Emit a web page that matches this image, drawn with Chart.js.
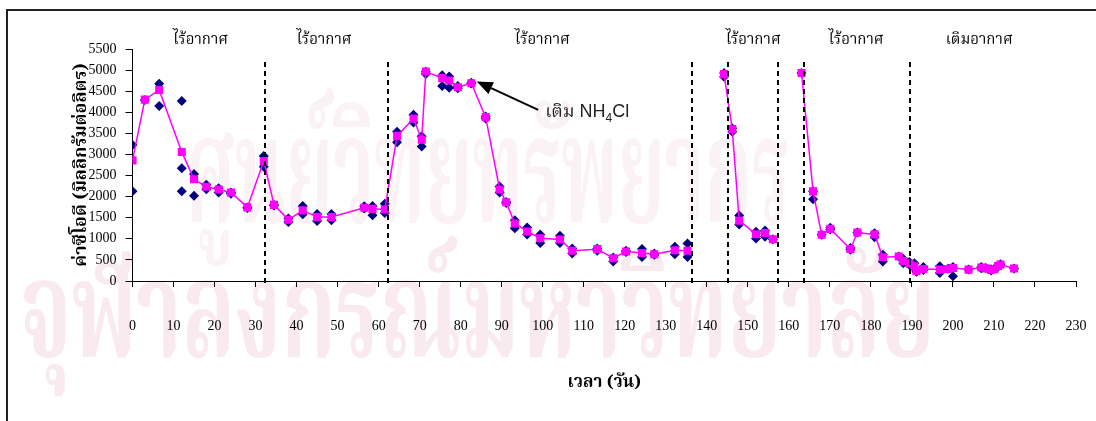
<!DOCTYPE html>
<html>
<head>
<meta charset="utf-8">
<script src="https://cdn.jsdelivr.net/npm/chart.js@4.4.1/dist/chart.umd.min.js"></script>
<style>
html,body{margin:0;padding:0;background:#fff;}
#wrap{position:relative;width:1096px;height:421px;}
</style>
</head>
<body>
<div id="wrap"><canvas id="c" width="1096" height="421"></canvas></div>
<script>
// ---- Data ----
const avgDays = [0,3,6.5,12,15,18,21,24,28,32,34.5,38,41.5,45,48.5,56.5,58.5,61.5,64.5,68.5,70.5,71.5,75.5,77.2,79.3,82.6,86.1,89.5,91.1,93.2,96.2,99.4,104.2,107.2,113.3,117.2,120.3,124.2,127.2,132.2,135.3,140,144.2,146.2,147.9,152,154.2,156.1,160,163.1,165.9,168,170.1,175,176.7,180.9,182.9,186.8,187.9,189.4,190.6,191.1,192.8,196.8,198.8,200,203.8,206.9,208,209.3,210.1,211,211.6,214.9];
const avgCOD = [2860,4300,4530,3060,2410,2235,2170,2100,1745,2845,1805,1450,1675,1515,1515,1735,1710,1695,3440,3850,3350,4965,4810,4755,4595,4690,3885,2170,1865,1365,1175,1015,985,715,755,540,700,665,635,730,715,null,4905,3600,1430,1110,1140,990,null,4930,2125,1095,1235,760,1150,1105,565,580,475,415,350,240,285,270,285,310,270,318,300,262,278,355,390,295];

const repDays = [0,0,3,6.5,6.5,12,12,12,15,15,18,18,21,21,24,24,28,28,32,32,34.5,34.5,38,38,41.5,41.5,45,45,48.5,48.5,56.5,56.5,58.5,58.5,61.5,61.5,64.5,64.5,68.5,68.5,70.5,70.5,71.5,71.5,75.5,75.5,77.2,77.2,79.3,79.3,82.6,82.6,86.1,86.1,89.5,89.5,91.1,91.1,93.2,93.2,96.2,96.2,99.4,99.4,104.2,104.2,107.2,107.2,113.3,113.3,117.2,117.2,120.3,120.3,124.2,124.2,127.2,127.2,132.2,132.2,135.3,135.3,144.2,144.2,146.2,146.2,147.9,147.9,152,152,154.2,154.2,156.1,163.1,165.9,165.9,168,170.1,170.1,175,175,176.7,180.9,180.9,182.9,182.9,186.8,187.9,187.9,189.4,189.4,190.6,190.6,191.1,191.1,192.8,192.8,196.8,196.8,198.8,200,200,203.8,206.9,206.9,208,209.3,209.3,210.1,211,211,211.6,214.9];
const repCOD = [3225,2125,4290,4675,4150,4270,2670,2125,2536,2021,2280,2175,2200,2100,2100,2070,1745,1730,2964,2710,1800,1790,1480,1400,1780,1580,1590,1420,1590,1440,1770,1720,1780,1560,1830,1610,3540,3290,3940,3760,3430,3190,4905,4960,4875,4620,4850,4580,4620,4570,4700,4680,3900,3850,2240,2100,1870,1850,1440,1250,1270,1100,1100,900,1070,900,770,650,770,720,560,460,720,690,760,570,650,620,810,635,890,570,4930,4840,3620,3540,1550,1340,1170,1010,1200,1050,990,4930,2125,1940,1095,1260,1220,780,740,1150,1130,1040,620,460,580,520,420,450,380,420,300,260,220,330,260,350,190,290,330,112,270,330,300,310,280,250,290,370,340,400,295];

const phaseBoundaries = [32.4, 62.3, 136.4, 145.1, 157.4, 163.6, 189.6];
const phaseLabels = ['ไร้อากาศ','ไร้อากาศ','ไร้อากาศ','ไร้อากาศ','ไร้อากาศ','เติมอากาศ'];
const phaseLabelDays = [16.6, 46.7, 99.9, 151.3, 176.4, 206.4];
const yTitle = 'ค่าซีโอดี (มิลลิกรัมต่อลิตร)';
const xTitle = 'เวลา (วัน)';
const watermark1 = 'ศูนย์วิทยทรัพยากร';
const watermark2 = 'จุฬาลงกรณ์มหาวิทยาลัย';

const thaiFont = '"Noto Serif Thai","Noto Sans Thai","Garuda","Loma","Norasi","Tlwg Typo","Liberation Serif",serif';

const avgData = avgDays.map((d,i)=>({x:d,y:avgCOD[i]}));
const repData = repDays.map((d,i)=>({x:d,y:repCOD[i]}));

function fitText(ctx, text, x0, x1, baseline, size, color){
  ctx.save();
  ctx.font = 'bold '+size+'px '+thaiFont;
  ctx.fillStyle = color;
  ctx.textAlign='left';ctx.textBaseline='alphabetic';
  const w = ctx.measureText(text).width;
  const sx = (x1-x0)/w;
  ctx.translate(x0, baseline);
  ctx.scale(sx,1);
  ctx.fillText(text,0,0);
  ctx.restore();
}

const overlay = {
  id:'overlay',
  beforeDraw(chart){
    const ctx = chart.ctx;
    ctx.save();
    ctx.fillStyle='#fff';
    ctx.fillRect(0,0,chart.width,chart.height);
    fitText(ctx, watermark1, 185, 790, 222, 150, '#fbf2f6');
    fitText(ctx, watermark2, 20, 935, 357, 135, '#f9eaf0');
    ctx.restore();
  },
  afterDraw(chart){
    const ctx = chart.ctx, xs = chart.scales.x, ys = chart.scales.y;
    ctx.save();
    // frame
    ctx.strokeStyle='#222';ctx.lineWidth=2;
    ctx.beginPath();ctx.moveTo(7,421);ctx.lineTo(7,10);ctx.lineTo(1096,10);ctx.stroke();
    // dashed phase boundaries
    ctx.strokeStyle='#000';ctx.lineWidth=2;ctx.setLineDash([5,4]);
    phaseBoundaries.forEach(d=>{
      const px = Math.round(xs.getPixelForValue(d));
      ctx.beginPath();ctx.moveTo(px,62);ctx.lineTo(px,chart.chartArea.bottom+6);ctx.stroke();
    });
    ctx.setLineDash([]);
    // phase labels
    ctx.fillStyle='#000';ctx.font='15px '+thaiFont;ctx.textAlign='center';ctx.textBaseline='middle';
    phaseLabels.forEach((t,i)=>ctx.fillText(t, xs.getPixelForValue(phaseLabelDays[i]), 42));
    // axis titles
    ctx.font='bold 17px '+thaiFont;
    ctx.fillText(xTitle, (chart.chartArea.left+chart.chartArea.right)/2, 384);
    ctx.save();ctx.translate(83,(chart.chartArea.top+chart.chartArea.bottom)/2);ctx.rotate(-Math.PI/2);
    ctx.font='bold 18px '+thaiFont;
    ctx.fillText(yTitle,0,0);ctx.restore();
    // annotation arrow
    const tipX = xs.getPixelForValue(83.9), tipY = ys.getPixelForValue(4730);
    const tailX = xs.getPixelForValue(98.9), tailY = ys.getPixelForValue(4057);
    const ang = Math.atan2(tipY-tailY, tipX-tailX);
    const hl=16, hw=6.5;
    const bx = tipX - hl*Math.cos(ang), by = tipY - hl*Math.sin(ang);
    ctx.strokeStyle='#000';ctx.lineWidth=2;
    ctx.beginPath();ctx.moveTo(tailX,tailY);ctx.lineTo(bx,by);ctx.stroke();
    ctx.fillStyle='#000';
    ctx.beginPath();ctx.moveTo(tipX,tipY);
    ctx.lineTo(bx+hw*Math.sin(ang), by-hw*Math.cos(ang));
    ctx.lineTo(bx-hw*Math.sin(ang), by+hw*Math.cos(ang));
    ctx.closePath();ctx.fill();
    // annotation text
    ctx.fillStyle='#222';ctx.textAlign='left';ctx.textBaseline='alphabetic';
    let tx = xs.getPixelForValue(100.6), ty = 117;
    ctx.font='18px "Liberation Sans",'+thaiFont;
    const t1='เติม NH';
    ctx.fillText(t1,tx,ty); tx+=ctx.measureText(t1).width;
    ctx.font='12px "Liberation Sans",sans-serif';
    ctx.fillText('4',tx,ty+5); tx+=ctx.measureText('4').width;
    ctx.font='18px "Liberation Sans",sans-serif';
    ctx.fillText('Cl',tx,ty);
    ctx.restore();
  }
};

new Chart(document.getElementById('c'),{
  type:'scatter',
  data:{datasets:[
    {label:'avg',data:avgData,showLine:true,spanGaps:false,borderColor:'#FF00FF',backgroundColor:'#FF00FF',borderWidth:1.5,pointStyle:'rect',pointRadius:5.7,pointBorderWidth:0,order:0},
    {label:'rep',data:repData,showLine:false,borderColor:'#000080',backgroundColor:'#000080',pointStyle:'rectRot',pointRadius:5,pointBorderWidth:0,order:1}
  ]},
  options:{
    responsive:false,animation:false,
    layout:{padding:{left:0,right:20,top:49,bottom:0}},
    plugins:{legend:{display:false},tooltip:{enabled:false}},
    scales:{
      x:{type:'linear',min:0,max:230,
        ticks:{stepSize:10,color:'#000',font:{family:'"Liberation Serif",serif',size:14},padding:31,maxRotation:0,callback:v=>String(v)},
        grid:{drawOnChartArea:false,drawTicks:true,tickLength:6,color:'#000',lineWidth:1},
        border:{color:'#000',width:1},
        afterFit(s){s.height=140;s.paddingLeft=0;s.paddingRight=0;}
      },
      y:{min:0,max:5500,
        ticks:{stepSize:500,color:'#000',font:{family:'"Liberation Serif",serif',size:14},padding:9,callback:v=>String(v)},
        grid:{drawOnChartArea:false,drawTicks:true,tickLength:7,color:'#000',lineWidth:1},
        border:{color:'#000',width:1},
        afterFit(s){s.width=132.5;s.paddingTop=0;s.paddingBottom=0;}
      }
    }
  },
  plugins:[overlay]
});
</script>
</body>
</html>
